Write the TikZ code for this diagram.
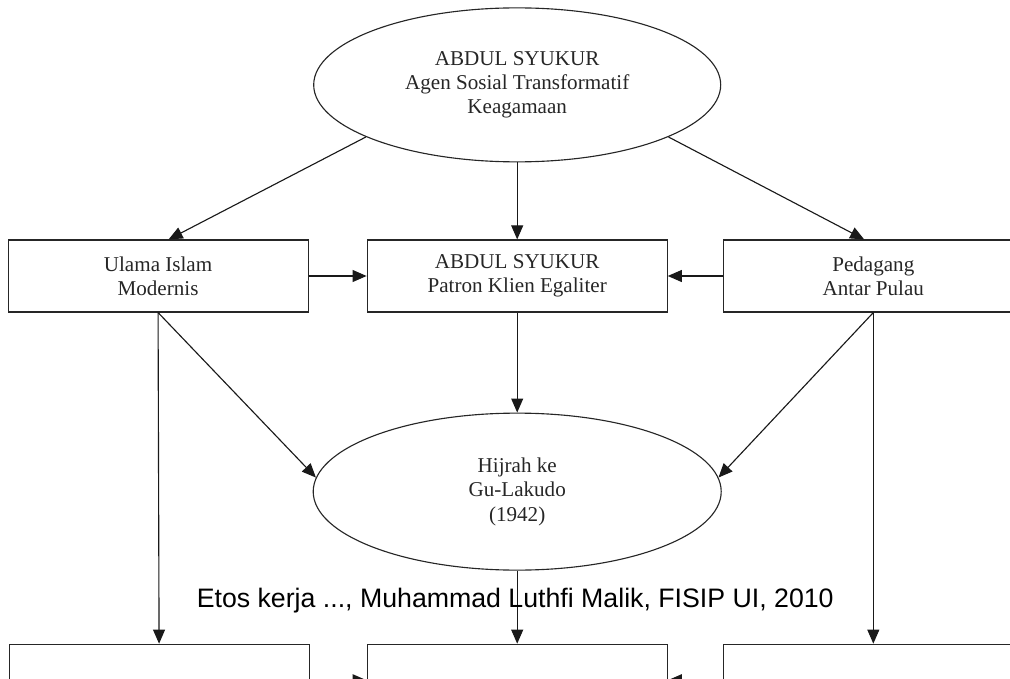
\documentclass[tikz,border=0pt]{standalone}
\usepackage{fontspec}
\setmainfont{Liberation Serif}
\newfontfamily\wmfont{Liberation Sans}
\usetikzlibrary{shapes,arrows.meta,positioning}

\begin{document}
\begin{tikzpicture}[
    box/.style={rectangle, draw=black!85, line width=0.8pt, minimum width=7.5cm, minimum height=1.8cm, align=center, text=black!85, font=\fontsize{15}{17.3}\selectfont},
    oval/.style={ellipse, draw=black!85, line width=0.8pt, align=center, text=black!85, font=\fontsize{15}{17.3}\selectfont},
    link/.style={->, line width=0.8pt, draw=black!90},
    >={Triangle[length=10pt,width=8.5pt]}
]
    \useasboundingbox (0,0) rectangle (25.25,-16.975);

    % Create nodes with relative positioning
    \node[box] (patron) at (12.93,-6.9) {ABDUL SYUKUR \\ Patron Klien Egaliter};
    \node[box, left=1.45cm of patron] (ulama) {Ulama Islam \\ Modernis};
    \node[box, right=1.375cm of patron] (pedagang) {Pedagang \\ Antar Pulau};
    \node[oval, minimum width=10.175cm, minimum height=3.85cm, above=1.925cm of patron] (agen) {ABDUL SYUKUR \\ Agen Sosial Transformatif \\ Keagamaan};
    \node[oval, minimum width=10.2cm, minimum height=3.925cm, below=2.5cm of patron] (hijrah) {Hijrah ke \\ Gu-Lakudo \\ (1942)};
    \node[box, below=1.825cm of hijrah] (hasiltengah) {};
    \node[box, left=1.425cm of hasiltengah] (hasilkiri) {};
    \node[box, right=1.375cm of hasiltengah] (hasilkanan) {};

    % Connect nodes with arrows
    \draw[link] (agen.199) -- (ulama.74);
    \draw[link] (agen.south) -- (patron.north);
    \draw[link] (agen.-19) -- (pedagang.104);
    \draw[link] (ulama.east) -- (patron.west);
    \draw[link] (pedagang.west) -- (patron.east);
    \draw[link] (patron.south) -- (hijrah.north);
    \draw[link] (ulama.south) -- (hijrah.176);
    \draw[link] (pedagang.south) -- (hijrah.4);
    \draw[link] (ulama.south) -- (hasilkiri.north);
    \draw[link] (pedagang.south) -- (hasilkanan.north);
    \draw[link] (hijrah.south) -- (hasiltengah.north);
    \draw[link] (hasilkiri.east) -- (hasiltengah.west);
    \draw[link] (hasilkanan.west) -- (hasiltengah.east);

    % footer line over the drawing
    \node[font=\wmfont\fontsize{19}{22}\selectfont, anchor=base] (catatan) at (12.88,-15.175) {Etos kerja ..., Muhammad Luthfi Malik, FISIP UI, 2010};
\end{tikzpicture}
\end{document}
